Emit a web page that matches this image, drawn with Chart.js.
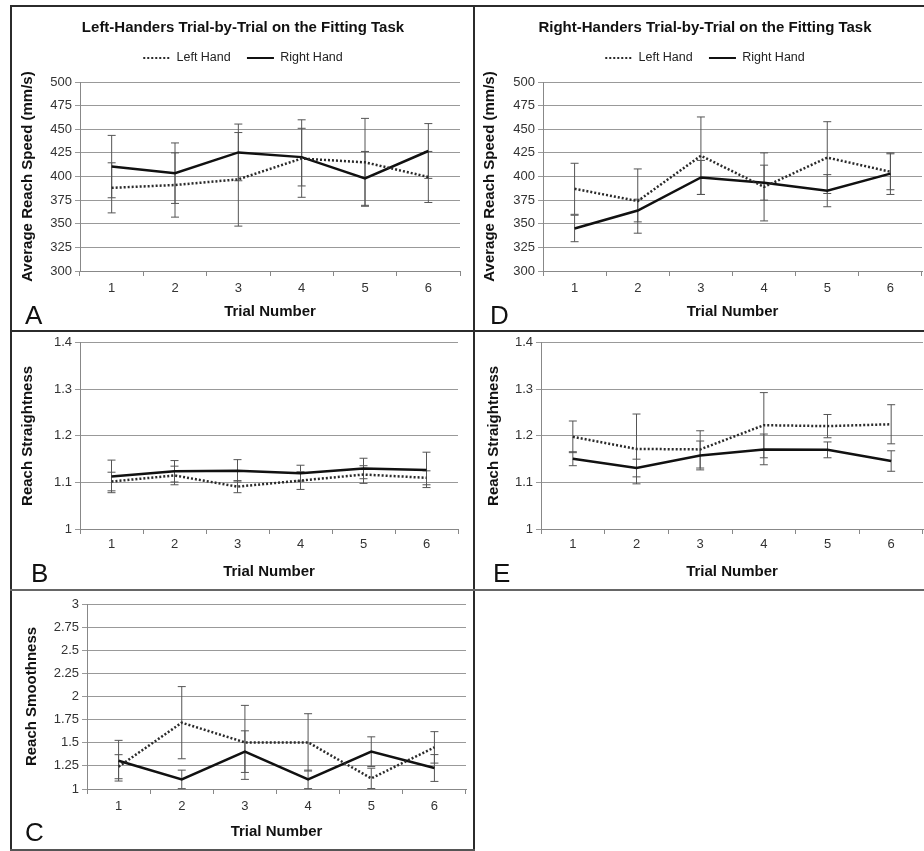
<!DOCTYPE html>
<html>
<head>
<meta charset="utf-8">
<script src="https://cdn.jsdelivr.net/npm/chart.js@4.4.1/dist/chart.umd.min.js"></script>
<style>
body { margin: 0; background: #fff; }
#page { position: relative; width: 924px; height: 851px; overflow: hidden; background: #fff; }
canvas, .rule, .tag { position: absolute; }
.rule { background: #2b2b2b; }
.tag { font: 26px "Liberation Sans", Arial, sans-serif; color: #111; line-height: 1; }
</style>
</head>
<body>
<div id="page">
  <div class="rule" style="left:10px;top:5px;width:914px;height:2px"></div>
  <div class="rule" style="left:10px;top:5px;width:2px;height:846px"></div>
  <div class="rule" style="left:473px;top:5px;width:2px;height:846px"></div>
  <div class="rule" style="left:10px;top:330px;width:914px;height:2px"></div>
  <div class="rule" style="left:10px;top:589px;width:914px;height:2px;background:#666"></div>
  <div class="rule" style="left:10px;top:849px;width:465px;height:2px;background:#555"></div>

  <canvas id="panelA" width="461" height="323" style="left:12px;top:7px"></canvas>
  <canvas id="panelD" width="449" height="323" style="left:475px;top:7px"></canvas>
  <canvas id="panelB" width="461" height="257" style="left:12px;top:332px"></canvas>
  <canvas id="panelE" width="449" height="257" style="left:475px;top:332px"></canvas>
  <canvas id="panelC" width="461" height="258" style="left:12px;top:591px"></canvas>

  <div class="tag" style="left:25px;top:302px">A</div>
  <div class="tag" style="left:490px;top:302px">D</div>
  <div class="tag" style="left:31px;top:560px">B</div>
  <div class="tag" style="left:493px;top:560px">E</div>
  <div class="tag" style="left:25px;top:819px">C</div>
</div>
<script>
const trials = ['1', '2', '3', '4', '5', '6'];

// A - left-handers, reach speed
const speedLeftL = [388, 391, 397, 419, 415, 399.5];
const speedLeftLErr = [26.5, 34, 49.5, 41, 46.5, 27];
const speedRightL = [410.5, 403.5, 425.5, 420.5, 398, 427];
const speedRightLErr = [33, 32, 30, 30.5, 28.5, 29];

// D - right-handers, reach speed
const speedLeftR = [387, 374, 422, 389, 420, 405];
const speedLeftRErr = [27, 34, 41, 36, 38, 19];
const speedRightR = [345, 364, 399, 393.5, 385, 403];
const speedRightRErr = [14, 12, 18, 18.5, 17, 22];

// B - left-handers, straightness
const straightLeftL = [1.102, 1.115, 1.091, 1.104, 1.117, 1.110];
const straightLeftLErr = [0.02, 0.02, 0.013, 0.019, 0.019, 0.015];
const straightRightL = [1.113, 1.124, 1.125, 1.120, 1.130, 1.127];
const straightRightLErr = [0.035, 0.023, 0.024, 0.017, 0.022, 0.038];

// E - right-handers, straightness
const straightLeftR = [1.198, 1.172, 1.171, 1.223, 1.221, 1.225];
const straightLeftRErr = [0.034, 0.075, 0.04, 0.07, 0.025, 0.042];
const straightRightR = [1.151, 1.131, 1.158, 1.171, 1.170, 1.146];
const straightRightRErr = [0.015, 0.019, 0.031, 0.033, 0.017, 0.022];

// C - left-handers, smoothness
const smoothLeftL = [1.241, 1.717, 1.504, 1.504, 1.115, 1.45];
const smoothLeftLErr = [0.13, 0.39, 0.4, 0.31, 0.11, 0.17];
const smoothRightL = [1.306, 1.104, 1.404, 1.104, 1.404, 1.227];
const smoothRightLErr = [0.22, 0.1, 0.225, 0.1, 0.16, 0.145];

const fontFamily = '"Liberation Sans", Arial, sans-serif';

// error bars under the lines, from each dataset's errors array
const errorBars = {
    id: 'errorBars',
    beforeDatasetsDraw(chart) {
        const ctx = chart.ctx;
        const yScale = chart.scales.y;
        ctx.save();
        ctx.strokeStyle = '#555';
        ctx.lineWidth = 1;
        chart.data.datasets.forEach((ds, di) => {
            const meta = chart.getDatasetMeta(di);
            meta.data.forEach((pt, i) => {
                const top = yScale.getPixelForValue(ds.data[i] + ds.errors[i]);
                const bot = yScale.getPixelForValue(ds.data[i] - ds.errors[i]);
                ctx.beginPath();
                ctx.moveTo(pt.x, top);
                ctx.lineTo(pt.x, bot);
                ctx.moveTo(pt.x - 4, top);
                ctx.lineTo(pt.x + 4, top);
                ctx.moveTo(pt.x - 4, bot);
                ctx.lineTo(pt.x + 4, bot);
                ctx.stroke();
            });
        });
        ctx.restore();
    }
};

// legend lines keep the dataset's dash pattern
function legendLabels(chart) {
    return Chart.defaults.plugins.legend.labels.generateLabels(chart).map((item) => {
        item.lineDash = chart.data.datasets[item.datasetIndex].borderDash || [];
        item.lineWidth = 2;
        return item;
    });
}

function makePanel(id, p) {
    const datasets = [{
        label: 'Left Hand',
        data: p.left,
        errors: p.leftErr,
        borderColor: '#2a2a2a',
        backgroundColor: '#2a2a2a',
        borderWidth: 2.5,
        borderDash: [2, 2],
        pointRadius: 0,
        tension: 0
    }, {
        label: 'Right Hand',
        data: p.right,
        errors: p.rightErr,
        borderColor: '#111',
        backgroundColor: '#111',
        borderWidth: 2.5,
        pointRadius: 0,
        tension: 0
    }];

    return new Chart(document.getElementById(id), {
        type: 'line',
        data: { labels: trials, datasets: datasets },
        plugins: [errorBars],
        options: {
            responsive: false,
            animation: false,
            devicePixelRatio: 1,
            layout: {
                padding: { top: p.padTop, right: p.padRight, left: p.padLeft || 0, bottom: 0 }
            },
            plugins: {
                tooltip: { enabled: false },
                title: {
                    display: !!p.title,
                    text: p.title,
                    color: '#111',
                    padding: { top: 12.5, bottom: 0 },
                    font: { family: fontFamily, size: 15, weight: 'bold', lineHeight: 1 }
                },
                // empty spacer between legend and plot
                subtitle: {
                    display: !!p.title,
                    text: ' ',
                    weight: 500,
                    padding: { top: 0, bottom: 6.75 },
                    font: { size: 1, lineHeight: 1 }
                },
                legend: {
                    display: !!p.title,
                    labels: {
                        color: '#222',
                        usePointStyle: true,
                        pointStyle: 'line',
                        pointStyleWidth: 27,
                        padding: 16.25,
                        font: { family: fontFamily, size: 12.5 },
                        generateLabels: legendLabels
                    }
                }
            },
            scales: {
                x: {
                    offset: true,
                    afterFit: (scale) => { scale.height = p.xHeight; },
                    grid: {
                        offset: true,
                        drawOnChartArea: false,
                        tickLength: 5,
                        color: '#888'
                    },
                    border: { color: '#888' },
                    ticks: {
                        color: '#333',
                        padding: p.xTickPad,
                        font: { family: fontFamily, size: 13 }
                    },
                    title: {
                        display: true,
                        text: 'Trial Number',
                        color: '#111',
                        padding: { top: 0, bottom: p.xTitlePad },
                        font: { family: fontFamily, size: 15, weight: 'bold' }
                    }
                },
                y: {
                    min: p.yMin,
                    max: p.yMax,
                    afterFit: (scale) => { scale.width = p.yWidth; },
                    grid: { color: '#999', tickLength: 5 },
                    border: { color: '#888' },
                    ticks: {
                        stepSize: p.yStep,
                        color: '#333',
                        padding: 3,
                        font: { family: fontFamily, size: 13 },
                        callback: (v) => String(+v.toFixed(2))
                    },
                    title: {
                        display: true,
                        text: p.yTitle,
                        color: '#111',
                        padding: { top: p.yTitlePad, bottom: 0 },
                        font: { family: fontFamily, size: 15, weight: 'bold' }
                    }
                }
            }
        }
    });
}

var chartA = makePanel('panelA', {
    title: 'Left-Handers Trial-by-Trial on the Fitting Task',
    left: speedLeftL, leftErr: speedLeftLErr,
    right: speedRightL, rightErr: speedRightLErr,
    yMin: 300, yMax: 500, yStep: 25, yTitle: 'Average Reach Speed (mm/s)',
    padTop: 1, padLeft: 14, padRight: 13, yWidth: 54, xHeight: 59, xTickPad: 4.5, xTitlePad: 9, yTitlePad: -7
});

var chartD = makePanel('panelD', {
    title: 'Right-Handers Trial-by-Trial on the Fitting Task',
    left: speedLeftR, leftErr: speedLeftRErr,
    right: speedRightR, rightErr: speedRightRErr,
    yMin: 300, yMax: 500, yStep: 25, yTitle: 'Average Reach Speed (mm/s)',
    padTop: 1, padLeft: 13, padRight: 2, yWidth: 55, xHeight: 59, xTickPad: 4.5, xTitlePad: 9, yTitlePad: -7
});

var chartB = makePanel('panelB', {
    left: straightLeftL, leftErr: straightLeftLErr,
    right: straightRightL, rightErr: straightRightLErr,
    yMin: 1, yMax: 1.4, yStep: 0.1, yTitle: 'Reach Straightness',
    padTop: 9, padRight: 15, yWidth: 68, xHeight: 60, xTickPad: 2.5, xTitlePad: 8, yTitlePad: 7
});

var chartE = makePanel('panelE', {
    left: straightLeftR, leftErr: straightLeftRErr,
    right: straightRightR, rightErr: straightRightRErr,
    yMin: 1, yMax: 1.4, yStep: 0.1, yTitle: 'Reach Straightness',
    padTop: 9, padRight: 1, yWidth: 66, xHeight: 60, xTickPad: 2.5, xTitlePad: 8, yTitlePad: 10
});

var chartC = makePanel('panelC', {
    left: smoothLeftL, leftErr: smoothLeftLErr,
    right: smoothRightL, rightErr: smoothRightLErr,
    yMin: 1, yMax: 3, yStep: 0.25, yTitle: 'Reach Smoothness',
    padTop: 13, padRight: 7, yWidth: 75, xHeight: 60, xTickPad: 4.5, xTitlePad: 8, yTitlePad: 11
});
</script>
</body>
</html>
